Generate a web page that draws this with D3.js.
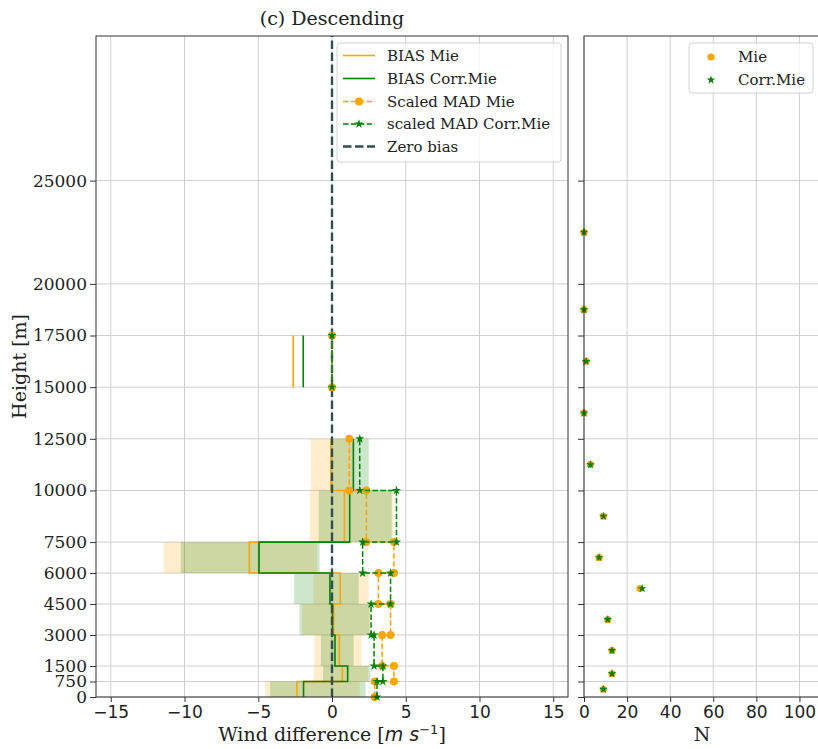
<!DOCTYPE html>
<html><head><meta charset="utf-8">
<script src="https://cdn.jsdelivr.net/npm/d3@7"></script>
<style>body{margin:0;background:#fff}svg{display:block}</style>
</head><body><svg id="c" width="818" height="749"></svg>
<script>
// ---- data ----
const binEdges = [0, 750, 1500, 3000, 4500, 6000, 7500, 10000, 12500, 15000, 17500, 20000, 25000];
const heightTicks = [0, 750, 1500, 3000, 4500, 6000, 7500, 10000, 12500, 15000, 17500, 20000, 25000];
const windTicks = [-15, -10, -5, 0, 5, 10, 15];
const nTicks = [0, 20, 40, 60, 80, 100];

const biasMie  = [-2.38, 0.70, 0.50, 0.11, 0.56, -5.60, 0.84, -0.07, null, -2.63, null, null];
const biasCorr = [-1.93, 1.06, 0.20, 0.03, -0.14, -4.95, 1.20, 1.45, null, -1.95, null, null];
const madMie   = [2.90, 4.20, 3.40, 3.97, 3.15, 4.20, 2.33, 1.17, null, 0, null, null];
const madCorr  = [3.05, 3.45, 2.85, 2.65, 3.97, 2.08, 4.37, 1.88, null, 0, null, null];
const loMie    = [-4.54, -1.25, -1.20, -2.02, -1.25, -11.41, -1.52, -1.43, null, -2.63, null, null];
const hiMie    = [1.88, 2.45, 2.00, 2.60, 2.49, -1.02, 4.15, 1.45, null, -2.63, null, null];
const loCorr   = [-4.20, -0.60, -0.75, -2.20, -2.56, -10.25, -0.90, -0.07, null, -1.95, null, null];
const hiCorr   = [2.27, 2.60, 1.47, 2.55, 1.81, -0.84, 4.05, 2.49, null, -1.95, null, null];
const nMie     = [9, 13, 13, 11, 26, 7, 9, 3, 0, 1, 0, 0];
const nCorr    = [9, 13, 13, 11, 27, 7, 9, 3, 0, 1, 0, 0];

const ORANGE = "#ffa500", GREEN = "#008000", ZERO = "#2f4f4f";
const SERIF = "DejaVu Serif", SANS = "DejaVu Sans";

const svg = d3.select("#c");
const x = d3.scaleLinear().domain([-16, 16]).range([96, 568]);
const y = d3.scaleLinear().domain([0, 32000]).range([697, 36]);
const xN = d3.scaleLinear().domain([0, 110]).range([584, 821]);

const bins = binEdges.slice(0, -1).map((lo, i) => ({ i, lo, hi: binEdges[i + 1], mid: (lo + binEdges[i + 1]) / 2 }));

// ---- grids ----
function grid(g, xs, xScale, x0, x1) {
  g.selectAll("line.v").data(xs).join("line").attr("class", "v")
    .attr("x1", d => xScale(d)).attr("x2", d => xScale(d))
    .attr("y1", y(32000)).attr("y2", y(0))
    .attr("stroke", "#cfcfcf").attr("stroke-width", 1);
  g.selectAll("line.h").data(heightTicks).join("line").attr("class", "h")
    .attr("x1", x0).attr("x2", x1)
    .attr("y1", d => y(d)).attr("y2", d => y(d))
    .attr("stroke", "#cfcfcf").attr("stroke-width", 1);
}
grid(svg.append("g"), windTicks, x, 96, 568);
grid(svg.append("g"), nTicks, xN, 584, 821);

// ---- shading ----
function shade(lo, hi, color) {
  svg.append("g").selectAll("rect").data(bins.filter(b => lo[b.i] !== null && hi[b.i] > lo[b.i])).join("rect")
    .attr("x", b => x(lo[b.i])).attr("width", b => x(hi[b.i]) - x(lo[b.i]))
    .attr("y", b => y(b.hi)).attr("height", b => y(b.lo) - y(b.hi))
    .attr("fill", color).attr("fill-opacity", 0.2);
}
shade(loMie, hiMie, ORANGE);
shade(loCorr, hiCorr, GREEN);

// ---- step lines ----
function stepPts(vals) {
  return bins.flatMap(b => [{ v: vals[b.i], h: b.lo }, { v: vals[b.i], h: b.hi }]);
}
const stepLine = d3.line().defined(d => d.v !== null).x(d => x(d.v)).y(d => y(d.h));

svg.append("path").attr("d", stepLine(stepPts(biasMie))).attr("fill", "none").attr("stroke", ORANGE).attr("stroke-width", 1.6);
svg.append("path").attr("d", stepLine(stepPts(biasCorr))).attr("fill", "none").attr("stroke", GREEN).attr("stroke-width", 1.6);

// zero line
svg.append("line").attr("x1", x(0)).attr("x2", x(0)).attr("y1", y(0)).attr("y2", y(32000))
  .attr("stroke", ZERO).attr("stroke-width", 2.4).attr("stroke-dasharray", "8.5,3.5");

// MAD lines with markers
const star = d3.symbol().type(d3.symbolStar);
function madSeries(vals, color, marker) {
  const pts = stepPts(vals);
  svg.append("path").attr("d", stepLine(pts)).attr("fill", "none").attr("stroke", color)
    .attr("stroke-width", 1.5).attr("stroke-dasharray", "5.5,2.4");
  const g = svg.append("g");
  const def = pts.filter(d => d.v !== null);
  if (marker === "circle") {
    g.selectAll("circle").data(def).join("circle").attr("cx", d => x(d.v)).attr("cy", d => y(d.h))
      .attr("r", 4).attr("fill", color);
  } else {
    g.selectAll("path").data(def).join("path").attr("d", star.size(26)())
      .attr("transform", d => `translate(${x(d.v)},${y(d.h)})`).attr("fill", color);
  }
}
madSeries(madMie, ORANGE, "circle");
madSeries(madCorr, GREEN, "star");

// ---- N panel points ----
svg.append("g").selectAll("circle").data(bins).join("circle")
  .attr("cx", b => xN(nMie[b.i])).attr("cy", b => y(b.mid)).attr("r", 3.6).attr("fill", ORANGE);
svg.append("g").selectAll("path").data(bins).join("path")
  .attr("d", star.size(24)())
  .attr("transform", b => `translate(${xN(nCorr[b.i])},${y(b.mid)})`).attr("fill", GREEN);

// ---- axes ----
const minus = d => d < 0 ? "\u2212" + (-d) : String(d);
function styleAxis(g, family) {
  g.select(".domain").remove();
  g.selectAll(".tick line").attr("stroke", "#333");
  g.selectAll(".tick text").attr("fill", "#222").style("font-family", family).style("font-size", "17px");
}
svg.append("g").attr("transform", "translate(96,0)")
  .call(d3.axisLeft(y).tickValues(heightTicks).tickSize(6).tickPadding(3).tickFormat(d => String(d)))
  .call(g => styleAxis(g, SERIF));
svg.append("g").attr("transform", "translate(0,697)")
  .call(d3.axisBottom(x).tickValues(windTicks).tickSize(5).tickPadding(4).tickFormat(minus))
  .call(g => styleAxis(g, SANS));
svg.append("g").attr("transform", "translate(584,0)")
  .call(d3.axisLeft(y).tickValues(heightTicks).tickSize(6).tickFormat(""))
  .call(g => styleAxis(g, SERIF));
svg.append("g").attr("transform", "translate(0,697)")
  .call(d3.axisBottom(xN).tickValues(nTicks).tickSize(5).tickPadding(4).tickFormat(d => String(d)))
  .call(g => styleAxis(g, SANS));

// spines
svg.append("rect").attr("x", 96).attr("y", 36).attr("width", 472).attr("height", 661)
  .attr("fill", "none").attr("stroke", "#333").attr("stroke-width", 1);
svg.append("rect").attr("x", 584).attr("y", 36).attr("width", 240).attr("height", 661)
  .attr("fill", "none").attr("stroke", "#333").attr("stroke-width", 1);

// ---- legends ----
const lg = svg.append("g");
lg.append("rect").attr("x", 337).attr("y", 43).attr("width", 224).attr("height", 119).attr("rx", 3)
  .attr("fill", "#fff").attr("fill-opacity", 0.8).attr("stroke", "#d3d3d3");
const legItems = [
  { label: "BIAS Mie", color: ORANGE, dash: null, w: 1.6, mk: null },
  { label: "BIAS Corr.Mie", color: GREEN, dash: null, w: 1.6, mk: null },
  { label: "Scaled MAD Mie", color: ORANGE, dash: "5.5,2.4", w: 1.5, mk: "circle" },
  { label: "scaled MAD Corr.Mie", color: GREEN, dash: "5.5,2.4", w: 1.5, mk: "star" },
  { label: "Zero bias", color: ZERO, dash: "8.5,3.5", w: 2.4, mk: null }
];
const legY = [55.5, 78.5, 101.5, 124, 146.5];
legItems.forEach((it, k) => {
  const yy = legY[k];
  lg.append("line").attr("x1", 343).attr("x2", 375).attr("y1", yy).attr("y2", yy)
    .attr("stroke", it.color).attr("stroke-width", it.w).attr("stroke-dasharray", it.dash);
  if (it.mk === "circle") lg.append("circle").attr("cx", 359).attr("cy", yy).attr("r", 4).attr("fill", it.color);
  if (it.mk === "star") lg.append("path").attr("d", star.size(26)()).attr("transform", `translate(359,${yy})`).attr("fill", it.color);
  lg.append("text").attr("x", 387).attr("y", yy).attr("dy", "0.36em").text(it.label)
    .style("font-family", SERIF).style("font-size", "15px").attr("fill", "#222");
});

const lg2 = svg.append("g");
lg2.append("rect").attr("x", 689).attr("y", 43).attr("width", 124).attr("height", 50).attr("rx", 3)
  .attr("fill", "#fff").attr("fill-opacity", 0.8).attr("stroke", "#d3d3d3");
lg2.append("circle").attr("cx", 711).attr("cy", 57).attr("r", 3.6).attr("fill", ORANGE);
lg2.append("path").attr("d", star.size(24)()).attr("transform", "translate(711,80)").attr("fill", GREEN);
[["Mie", 57], ["Corr.Mie", 80]].forEach(([t, yy]) => {
  lg2.append("text").attr("x", 738).attr("y", yy).attr("dy", "0.36em").text(t)
    .style("font-family", SERIF).style("font-size", "15px").attr("fill", "#222");
});

// ---- labels ----
svg.append("text").attr("x", 332).attr("y", 25).attr("text-anchor", "middle").text("(c) Descending")
  .style("font-family", SERIF).style("font-size", "19px").attr("fill", "#222");
const xl = svg.append("text").attr("x", 332).attr("y", 741).attr("text-anchor", "middle")
  .style("font-family", SERIF).style("font-size", "19px").attr("fill", "#222");
xl.append("tspan").text("Wind difference [");
xl.append("tspan").text("m s").style("font-family", SANS).style("font-style", "italic");
xl.append("tspan").text("\u22121").style("font-family", SANS).style("font-size", "13px").attr("dy", "-7");
xl.append("tspan").text("]").attr("dy", "7");
svg.append("text").attr("transform", "translate(26,366.5) rotate(-90)").attr("text-anchor", "middle")
  .text("Height [m]").style("font-family", SERIF).style("font-size", "19px").attr("fill", "#222");
svg.append("text").attr("x", 702).attr("y", 741).attr("text-anchor", "middle").text("N")
  .style("font-family", SERIF).style("font-size", "19px").attr("fill", "#222");
</script>
</body></html>
